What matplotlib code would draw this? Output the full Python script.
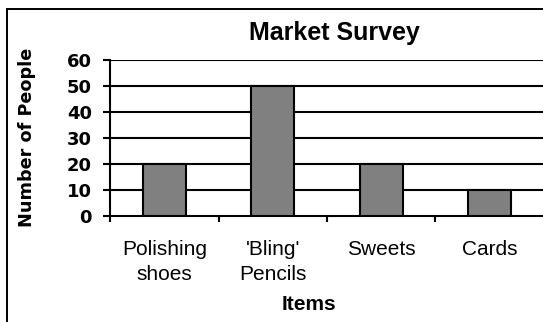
import matplotlib.pyplot as plt
from matplotlib.patches import Rectangle

plt.rcParams['font.family'] = ['Liberation Sans', 'DejaVu Sans']

items = ['Polishing\nshoes', "'Bling'\nPencils", 'Sweets', 'Cards']
people = [20, 50, 20, 10]
yticks = [0, 10, 20, 30, 40, 50, 60]

W, H = 543, 322
fig = plt.figure(figsize=(W / 100, H / 100), dpi=100)

# outer chart border (right and bottom sides fall outside the picture)
fig.patches.append(Rectangle((7 / W, -0.05), 1.1, 1.05 - 9 / H, transform=fig.transFigure,
                             fill=False, edgecolor='black', linewidth=1.4))

ax = fig.add_axes([110 / W, 1 - 216 / H, (544 - 110) / W, (216 - 60) / H])
x = range(len(items))
ax.bar(x, people, width=0.4, color='#808080', edgecolor='black', linewidth=1.5, zorder=3)

ax.set_xlim(-0.5, len(items) - 0.5)
ax.set_ylim(0, 60)
ax.set_yticks(yticks)
ax.set_yticklabels([str(v) for v in yticks], fontsize=13, fontweight='bold',
                   family='DejaVu Sans')
for v in yticks[1:]:
    ax.axhline(v, color='black', linewidth=1.5, zorder=1)

ax.set_xticks([i - 0.5 for i in range(len(items))])
ax.set_xticklabels([])
ax.set_xticks(list(x), minor=True)
ax.set_xticklabels(items, minor=True, fontsize=15, linespacing=1.45)
ax.tick_params(axis='x', which='minor', length=0, pad=17)
ax.tick_params(axis='x', which='major', length=4.5, width=1.5, direction='out')
ax.tick_params(axis='y', length=5, width=1.5, direction='out', pad=8)

for s in ['left', 'bottom']:
    ax.spines[s].set_linewidth(1.5)
ax.spines['top'].set_visible(False)
ax.spines['right'].set_color('#999999')

fig.text(334 / W, 1 - 40 / H, 'Market Survey', fontsize=18, fontweight='bold',
         ha='center', va='baseline')
fig.text(27 / W, 1 - 137 / H, 'Number of People', fontsize=12.7, fontweight='bold',
         family='DejaVu Sans', rotation=90, ha='center', va='center')
fig.text(309 / W, 1 - 310 / H, 'Items', fontsize=15, fontweight='bold',
         ha='center', va='baseline')

fig.savefig('out.png', dpi=100)
